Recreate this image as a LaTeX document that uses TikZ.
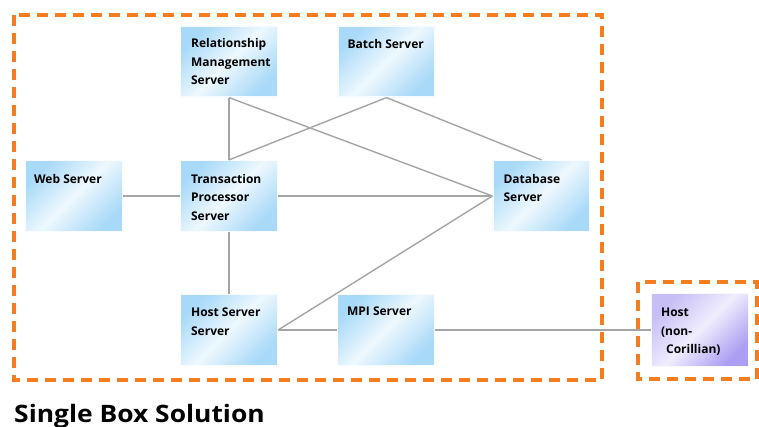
\documentclass[tikz,border=0pt]{standalone}
\usepackage{fontspec}
\setmainfont{Open Sans}
\definecolor{boxblue}{RGB}{168,217,248}
\definecolor{boxpale}{RGB}{238,248,254}
\definecolor{hostpurple}{RGB}{172,158,242}
\definecolor{hostpale}{RGB}{240,237,253}
\definecolor{frameorange}{RGB}{245,125,32}
\definecolor{linkgray}{RGB}{165,165,165}
\tikzset{
  server/.style={rectangle, inner sep=0pt, minimum width=97pt, minimum height=71pt,
    top color=boxblue, bottom color=boxblue, middle color=boxpale, shading angle=45,
    draw=white!60!boxpale, line width=1.2pt},
  hostbox/.style={rectangle, inner sep=0pt, minimum width=97pt, minimum height=73pt,
    top color=hostpurple!60!hostpale, bottom color=hostpurple, middle color=hostpale, shading angle=45,
    draw=white!60!hostpale, line width=1.2pt},
  caption/.style={anchor=north west, align=left, inner sep=0pt,
    font=\bfseries\fontsize{12}{18.5}\selectfont},
  link/.style={draw=linkgray, line width=1.4pt},
  frame/.style={draw=frameorange, line width=3.5pt, dash pattern=on 11pt off 7pt},
}
\begin{document}
\begin{tikzpicture}[x=1pt, y=-1pt]
  \useasboundingbox (0,0) rectangle (759,427);

  % dashed enclosures
  \draw[frame] (14,15) rectangle (602,380);
  \draw[frame] (638,282) rectangle (757,379);

  % server boxes
  \node[server] (rms)   at (229,61.5)  {};
  \node[server] (batch) at (386.5,61.5){};
  \node[server] (web)   at (74,196)    {};
  \node[server] (tps)   at (229,196)   {};
  \node[server] (db)    at (541.5,196) {};
  \node[server] (hss)   at (229,330)   {};
  \node[server] (mpi)   at (386,330)   {};
  \node[hostbox] (host) at (700,330)   {};

  % box captions
  \node[caption] (rms-t)   at ([shift={(11,13)}]rms.north west)   {Relationship\\Management\\Server};
  \node[caption] (batch-t) at ([shift={(10,14)}]batch.north west) {Batch Server};
  \node[caption] (web-t)   at ([shift={(9,14)}]web.north west)    {Web Server};
  \node[caption] (tps-t)   at ([shift={(11,14)}]tps.north west)   {Transaction\\Processor\\Server};
  \node[caption] (db-t)    at ([shift={(11,14)}]db.north west)    {Database\\Server};
  \node[caption] (hss-t)   at ([shift={(11,14)}]hss.north west)   {Host Server\\Server};
  \node[caption] (mpi-t)   at ([shift={(10,13)}]mpi.north west)   {MPI Server};
  \node[caption] (host-t)  at ([shift={(10,15)}]host.north west)  {Host\\(non-\\\hspace*{5pt}Corillian)};

  % connections
  \draw[link] (rms.south) -- (tps.north);
  \draw[link] (rms.south) -- (db.west);
  \draw[link] (batch.south) -- (tps.north);
  \draw[link] (batch.south) -- (db.north);
  \draw[link] (web.east) -- (tps.west);
  \draw[link] (tps.east) -- (db.west);
  \draw[link] (tps.south) -- (hss.north);
  \draw[link] (hss.east) -- (db.west);
  \draw[link] (hss.east) -- (mpi.west);
  \draw[link] (mpi.east) -- (host.west);

  % title
  \node[anchor=base west, inner sep=0pt, xscale=1.1, font=\bfseries\fontsize{24}{28}\selectfont]
    (title) at (14,422) {Single Box Solution};
\end{tikzpicture}
\end{document}
